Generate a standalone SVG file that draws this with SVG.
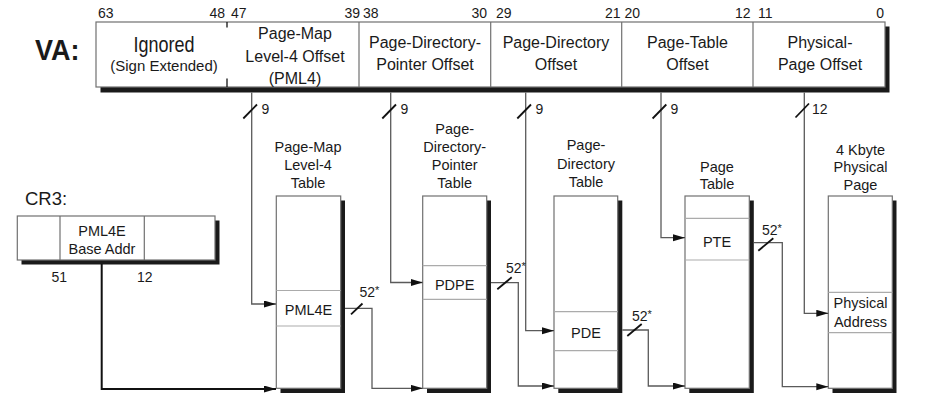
<svg xmlns="http://www.w3.org/2000/svg" width="948" height="411" viewBox="0 0 948 411">
<style>
text{font-family:"Liberation Sans",Arial,sans-serif;fill:#1a1a1a}
.bit{font-size:14px}
.fl{font-size:16px;text-anchor:middle}
.tt{font-size:14.5px;text-anchor:middle}
.en{font-size:14.5px;text-anchor:middle}
.lb{font-size:14px}
.box{fill:#fff;stroke:#707070;stroke-width:1.2}
.shd{fill:#1a1a1a}
.div{stroke:#707070;stroke-width:1.2}
.ent{stroke:#ababab;stroke-width:1.2}
.con{fill:none;stroke:#5a5a5a;stroke-width:1.3}
.cr{fill:none;stroke:#111;stroke-width:2}
.sl{stroke:#111;stroke-width:1.8}
</style>
<defs>
<marker id="ah" markerUnits="userSpaceOnUse" markerWidth="13" markerHeight="8" refX="12" refY="3.5" orient="auto">
<path d="M0,0 L12,3.5 L0,7 z" fill="#111"/>
</marker>
</defs>

<g id="va">
<text transform="translate(35,60) scale(1,1.12)" style="font-size:27px;font-weight:bold">VA:</text>
<rect class="shd" x="100.5" y="26.5" width="789" height="66"/>
<rect class="box" x="96" y="22" width="789" height="65"/>
<line x1="227" y1="22" x2="227" y2="27.5" stroke="#111" stroke-width="1.3"/>
<line x1="227" y1="78.5" x2="227" y2="87" stroke="#111" stroke-width="1.3"/>
<line class="div" x1="359" y1="22" x2="359" y2="87"/>
<line class="div" x1="490.7" y1="22" x2="490.7" y2="87"/>
<line class="div" x1="621.7" y1="22" x2="621.7" y2="87"/>
<line class="div" x1="753" y1="22" x2="753" y2="87"/>
<text class="bit" x="98" y="18">63</text>
<text class="bit" x="225" y="18" text-anchor="end">48</text>
<text class="bit" x="231" y="18">47</text>
<text class="bit" x="360" y="18" text-anchor="end">39</text>
<text class="bit" x="363" y="18">38</text>
<text class="bit" x="487" y="18" text-anchor="end">30</text>
<text class="bit" x="496" y="18">29</text>
<text class="bit" x="620.5" y="18" text-anchor="end">21</text>
<text class="bit" x="624.5" y="18">20</text>
<text class="bit" x="750.5" y="18" text-anchor="end">12</text>
<text class="bit" x="758" y="18">11</text>
<text class="bit" x="884" y="18" text-anchor="end">0</text>
<text transform="translate(164,52) scale(1,1.18)" style="font-size:18px;text-anchor:middle">Ignored</text>
<text x="164" y="71" style="font-size:15px;text-anchor:middle">(Sign Extended)</text>
<text class="fl" x="295" y="39">Page-Map</text>
<text class="fl" x="295" y="61.5">Level-4 Offset</text>
<text class="fl" x="295" y="84">(PML4)</text>
<text class="fl" x="425" y="48.3">Page-Directory-</text>
<text class="fl" x="425" y="69.5">Pointer Offset</text>
<text class="fl" x="556" y="48.3">Page-Directory</text>
<text class="fl" x="556" y="69.5">Offset</text>
<text class="fl" x="687.5" y="48.3">Page-Table</text>
<text class="fl" x="687.5" y="69.5">Offset</text>
<text class="fl" x="820" y="48.3">Physical-</text>
<text class="fl" x="820" y="69.5">Page Offset</text>
</g>

<g id="cr3">
<text x="25" y="205" style="font-size:18.5px">CR3:</text>
<rect class="shd" x="21.5" y="220.5" width="198" height="44"/>
<rect class="box" x="17.3" y="216" width="197.7" height="44"/>
<line class="div" x1="60" y1="216" x2="60" y2="260"/>
<line class="div" x1="144.3" y1="216" x2="144.3" y2="260"/>
<text class="en" x="102" y="236">PML4E</text>
<text class="en" x="102" y="253.5">Base Addr</text>
<text class="lb" x="51.5" y="281.7">51</text>
<text class="lb" x="137" y="281.7">12</text>
</g>

<g id="pml4-table">
<text class="tt" x="308" y="151.5">Page-Map</text>
<text class="tt" x="308" y="169.5">Level-4</text>
<text class="tt" x="308" y="187.5">Table</text>
<rect class="shd" x="280.5" y="200.5" width="64.5" height="192.5"/>
<rect class="box" x="276.3" y="196" width="64.4" height="192.3"/>
<line class="ent" x1="276.3" y1="290.5" x2="340.7" y2="290.5"/>
<line class="ent" x1="276.3" y1="326" x2="340.7" y2="326"/>
<text class="en" x="308.5" y="315">PML4E</text>
</g>

<g id="pdpt-table">
<text class="tt" x="454.7" y="133.5">Page-</text>
<text class="tt" x="454.7" y="151.5">Directory-</text>
<text class="tt" x="454.7" y="169.5">Pointer</text>
<text class="tt" x="454.7" y="187.5">Table</text>
<rect class="shd" x="427" y="200.5" width="64" height="192.5"/>
<rect class="box" x="422.7" y="196" width="64" height="192.3"/>
<line class="ent" x1="422.7" y1="265.7" x2="486.7" y2="265.7"/>
<line class="ent" x1="422.7" y1="299.3" x2="486.7" y2="299.3"/>
<text class="en" x="454.7" y="290">PDPE</text>
</g>

<g id="pd-table">
<text class="tt" x="586" y="150">Page-</text>
<text class="tt" x="586" y="168.5">Directory</text>
<text class="tt" x="586" y="187">Table</text>
<rect class="shd" x="558.3" y="200.5" width="64" height="192.5"/>
<rect class="box" x="554" y="196" width="63.7" height="192.3"/>
<line class="ent" x1="554" y1="311.7" x2="617.7" y2="311.7"/>
<line class="ent" x1="554" y1="350.7" x2="617.7" y2="350.7"/>
<text class="en" x="586" y="338">PDE</text>
</g>

<g id="pt-table">
<text class="tt" x="717" y="171.5">Page</text>
<text class="tt" x="717" y="189">Table</text>
<rect class="shd" x="689.3" y="200.5" width="64.5" height="192.5"/>
<rect class="box" x="685" y="196" width="64.3" height="192.3"/>
<line class="ent" x1="685" y1="218.3" x2="749.3" y2="218.3"/>
<line class="ent" x1="685" y1="260" x2="749.3" y2="260"/>
<text class="en" x="717" y="246.5">PTE</text>
</g>

<g id="physical-page">
<text class="tt" x="860.5" y="154.5">4 Kbyte</text>
<text class="tt" x="860.5" y="172">Physical</text>
<text class="tt" x="860.5" y="189.5">Page</text>
<rect class="shd" x="832.5" y="200.5" width="64" height="192.5"/>
<rect class="box" x="828.3" y="196" width="64" height="192.3"/>
<line class="ent" x1="828.3" y1="292.3" x2="892.3" y2="292.3"/>
<line class="ent" x1="828.3" y1="332.7" x2="892.3" y2="332.7"/>
<text class="en" x="860.5" y="307.5">Physical</text>
<text class="en" x="860.5" y="326.5">Address</text>
</g>

<g id="connectors">
<path class="con" d="M251.7,92.5 V304 H276" marker-end="url(#ah)"/>
<path class="con" d="M390.7,92.5 V282.5 H422.7" marker-end="url(#ah)"/>
<path class="con" d="M525.7,92.5 V330.7 H554" marker-end="url(#ah)"/>
<path class="con" d="M661,92.5 V237.7 H685" marker-end="url(#ah)"/>
<path class="con" d="M804.3,92.5 V313.3 H828.3" marker-end="url(#ah)"/>
<path class="cr" d="M101.7,264 V389 H276" marker-end="url(#ah)"/>
<path class="con" d="M345,308.3 H372 V388.3 H422.7" marker-end="url(#ah)"/>
<path class="con" d="M491,282.7 H518.3 V386 H554" marker-end="url(#ah)"/>
<path class="con" d="M622.3,330 H648.3 V386 H685" marker-end="url(#ah)"/>
<path class="con" d="M753.8,242.7 H782.3 V386.7 H828.3" marker-end="url(#ah)"/>
<line class="sl" x1="243.3" y1="118.5" x2="257" y2="104.5"/>
<line class="sl" x1="382.3" y1="118.5" x2="396" y2="104.5"/>
<line class="sl" x1="517.3" y1="118.5" x2="531" y2="104.5"/>
<line class="sl" x1="652.6" y1="118.5" x2="666.3" y2="104.5"/>
<line class="sl" x1="795.5" y1="117.5" x2="809" y2="103.5"/>
<text class="lb" x="261.5" y="114">9</text>
<text class="lb" x="400.5" y="114">9</text>
<text class="lb" x="535.5" y="114">9</text>
<text class="lb" x="670.5" y="114">9</text>
<text class="lb" x="812" y="114">12</text>
<line class="sl" x1="351" y1="314.3" x2="362.5" y2="303.5"/>
<line class="sl" x1="497.3" y1="289.3" x2="511.7" y2="277.3"/>
<line class="sl" x1="627.3" y1="336" x2="641.7" y2="324"/>
<line class="sl" x1="758.3" y1="250.7" x2="773.3" y2="238.3"/>
<text class="lb" x="359.5" y="296.7">52<tspan font-size="11" dy="-3">*</tspan></text>
<text class="lb" x="506" y="273">52<tspan font-size="11" dy="-3">*</tspan></text>
<text class="lb" x="632" y="320.7">52<tspan font-size="11" dy="-3">*</tspan></text>
<text class="lb" x="762" y="235">52<tspan font-size="11" dy="-3">*</tspan></text>
</g>
</svg>
